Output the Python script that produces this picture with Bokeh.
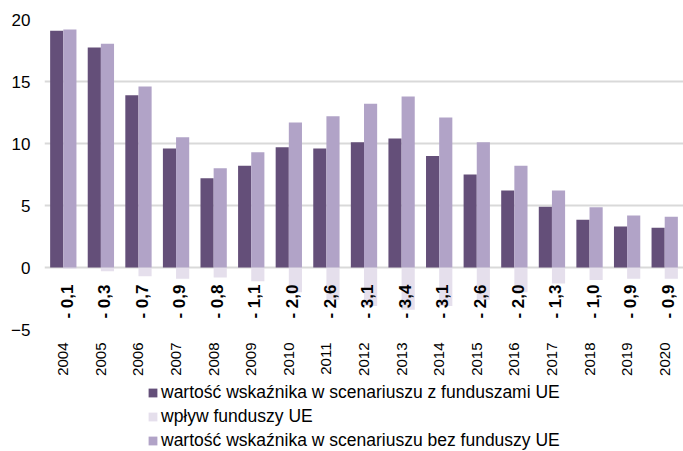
import math
from bokeh.plotting import figure
from bokeh.layouts import column
from bokeh.models import (ColumnDataSource, FactorRange, Range1d, FixedTicker,
                          Legend, LegendItem)
from bokeh.transform import dodge
from bokeh.core.properties import value
from bokeh.embed import file_html
from bokeh.resources import INLINE

# ---- data ----
years = ["2004", "2005", "2006", "2007", "2008", "2009", "2010", "2011", "2012",
         "2013", "2014", "2015", "2016", "2017", "2018", "2019", "2020"]
with_funds = [19.1, 17.75, 13.9, 9.6, 7.2, 8.2, 9.7, 9.6, 10.1, 10.4, 9.0, 7.5,
              6.2, 4.9, 3.85, 3.3, 3.2]
without_funds = [19.2, 18.05, 14.6, 10.5, 8.0, 9.3, 11.7, 12.2, 13.2, 13.8, 12.1,
                 10.1, 8.2, 6.2, 4.85, 4.2, 4.1]
impact = [-0.1, -0.3, -0.7, -0.9, -0.8, -1.1, -2.0, -2.6, -3.1, -3.4, -3.1, -2.6,
          -2.0, -1.3, -1.0, -0.9, -0.9]
y_ticks = [-5, 0, 5, 10, 15, 20]
series_names = ["wartość wskaźnika w scenariuszu z funduszami UE",
                "wpływ funduszy UE",
                "wartość wskaźnika w scenariuszu bez funduszy UE"]

labels = ["- " + f"{abs(v):.1f}".replace(".", ",") for v in impact]

DARK = "#644f79"
LIGHT = "#b1a3c7"
PALE = "#e5dfec"
COLORS = [DARK, PALE, LIGHT]
FONT = "Liberation Sans"

src = ColumnDataSource(dict(years=years, with_funds=with_funds,
                            without_funds=without_funds, impact=impact,
                            labels=labels))

# ---- main chart ----
p = figure(x_range=FactorRange(factors=years, range_padding=0),
           y_range=Range1d(-5, 20),
           width=683, height=379, output_backend="svg", toolbar_location=None,
           min_border_left=44, min_border_right=0, min_border_top=19,
           min_border_bottom=50)

p.vbar(x=dodge("years", -0.175, range=p.x_range), top="with_funds",
       width=0.35, source=src, fill_color=DARK, line_color=None)
p.vbar(x=dodge("years", 0.175, range=p.x_range), top="impact", bottom=0,
       width=0.35, source=src, fill_color=PALE, line_color=None)
p.vbar(x=dodge("years", 0.175, range=p.x_range), top="without_funds",
       width=0.35, source=src, fill_color=LIGHT, line_color=None)

p.text(x=dodge("years", 0.1, range=p.x_range), y=-2.75, text="labels", source=src,
       angle=math.pi / 2, text_align="center", text_baseline="middle",
       text_font=value(FONT), text_font_style="bold",
       text_font_size="17px", text_color="black")

for ax in (p.xaxis, p.yaxis):
    ax.axis_line_color = None
    ax.major_tick_line_color = None
    ax.minor_tick_line_color = None
    ax.major_tick_out = 0
    ax.major_tick_in = 0
    ax.minor_tick_out = 0
    ax.minor_tick_in = 0
    ax.major_label_text_font = FONT
    ax.major_label_text_color = "black"

p.xaxis.major_label_orientation = math.pi / 2
p.xaxis.major_label_standoff = 13
p.xaxis.major_label_text_font_size = "15px"

p.yaxis.ticker = FixedTicker(ticks=y_ticks)
p.yaxis.major_label_standoff = 14
p.yaxis.major_label_text_font_size = "17px"

p.xgrid.visible = False
p.ygrid.ticker = FixedTicker(ticks=y_ticks)
p.ygrid.grid_line_color = "#d9d9d9"
p.ygrid.grid_line_width = 2
p.outline_line_color = None

# ---- legend strip ----
lg = figure(width=683, height=72, output_backend="svg", toolbar_location=None,
            x_range=Range1d(0, 1), y_range=Range1d(0, 1),
            x_axis_type=None, y_axis_type=None,
            min_border=0, min_border_left=0, min_border_right=0,
            min_border_top=0, min_border_bottom=0)
lg.xgrid.visible = False
lg.ygrid.visible = False
lg.outline_line_color = None

items = []
for name, col in zip(series_names, COLORS):
    # legend swatch proxy, kept outside the visible range of this strip
    r = lg.vbar(x=[-5], top=[-5], width=0.1, fill_color=col, line_color=None)
    items.append(LegendItem(label=name, renderers=[r]))

legend = Legend(items=items, location=(103, 0), orientation="vertical",
                margin=0, padding=0, spacing=3,
                glyph_width=11, glyph_height=11, label_height=18,
                label_standoff=3,
                label_text_font=FONT, label_text_font_size="17.5px",
                label_text_color="black",
                border_line_color=None, background_fill_alpha=0)
lg.add_layout(legend, "center")

layout = column(p, lg, spacing=0)
open("out.html", "w").write(file_html(layout, INLINE))
